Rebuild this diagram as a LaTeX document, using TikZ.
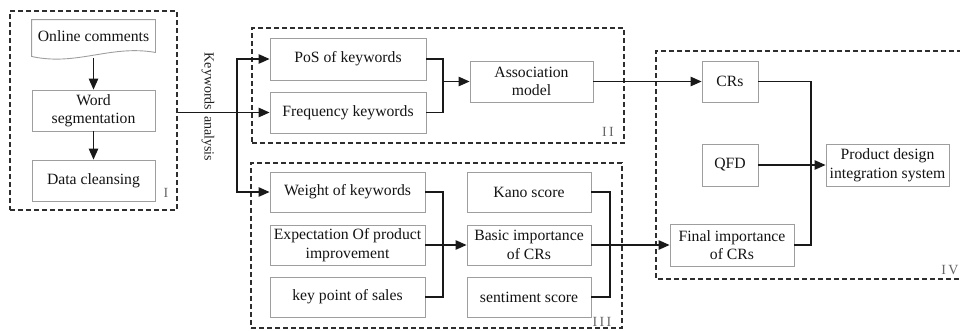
\documentclass[tikz,border=0pt]{standalone}
\usepackage{fontspec}
\setmainfont{Liberation Serif}
\usetikzlibrary{arrows.meta,calc}

\tikzset{
  stepbox/.style={draw=black!38, line width=0.9pt, fill=white, align=center,
    inner sep=0pt, font=\fontsize{15.7}{18.5}\selectfont, text=black!92},
  groupbox/.style={draw=black!82, line width=1.3pt, dash pattern=on 5pt off 3pt,
    inner sep=0pt},
  link/.style={draw=black!90, line width=1.2pt},
  flow/.style={link, -{Triangle[length=11pt,width=9.5pt]}},
  tag/.style={text=black!60, font=\fontsize{14}{14}\selectfont, inner sep=0pt},
}

\begin{document}
\begin{tikzpicture}[x=1pt,y=-1pt]
\useasboundingbox (0,0) rectangle (960,330);

% dashed group frames
\node[groupbox, minimum width=167pt, minimum height=199pt] (g1) at (93.5,110.5) {};
\node[groupbox, minimum width=372pt, minimum height=115pt] (g2) at (438,85.5) {};
\node[groupbox, minimum width=371pt, minimum height=165pt] (g3) at (436.5,245.5) {};
\draw[groupbox] (962,51) -- (656,51) -- (656,279) -- (962,279);

% group I: preprocessing
\node[stepbox, draw=none, fill=none, minimum width=123pt, minimum height=32pt] (oc) at (93.5,36) {Online comments};
\draw[draw=black!38, line width=0.9pt]
  (oc.south west) -- (oc.north west) -- (oc.north east) -- (oc.south east)
  .. controls ($(oc.south east)+(-45,-8)$) and ($(oc.south west)+(45,14)$) .. ($(oc.south west)+(0,4)$)
  -- (oc.south west);
\node[stepbox, minimum width=123pt, minimum height=41pt] (ws) at (93.5,110.5) {Word\\segmentation};
\node[stepbox, minimum width=123pt, minimum height=41pt] (dc) at (93.5,180.5) {Data cleansing};
\draw[flow] ($(oc.south)+(0,6)$) -- (ws.north);
\draw[flow] (ws.south) -- (dc.north);

% group II: association
\node[stepbox, minimum width=156pt, minimum height=42pt] (pos) at (348,59) {PoS of keywords};
\node[stepbox, minimum width=156pt, minimum height=41pt] (freq) at (348,112.5) {Frequency keywords};
\node[stepbox, minimum width=123pt, minimum height=41pt] (assoc) at (531.5,81.5) {Association\\model};

% group III: importance
\node[stepbox, minimum width=155pt, minimum height=40pt] (wk) at (347.5,192) {Weight of keywords};
\node[stepbox, minimum width=155pt, minimum height=40pt] (exp) at (347.5,245) {Expectation Of product\\improvement};
\node[stepbox, minimum width=155pt, minimum height=40pt] (kps) at (347.5,297) {key point of sales};
\node[stepbox, minimum width=124pt, minimum height=40pt] (kano) at (529,192) {Kano score};
\node[stepbox, minimum width=124pt, minimum height=40pt] (basic) at (529,245) {Basic importance\\of CRs};
\node[stepbox, minimum width=124pt, minimum height=40pt] (sent) at (529,297) {sentiment score};

% group IV: integration
\node[stepbox, minimum width=56pt, minimum height=41pt] (crs) at (730,81.5) {CRs};
\node[stepbox, minimum width=56pt, minimum height=42pt] (qfd) at (730,165) {QFD};
\node[stepbox, minimum width=124pt, minimum height=42pt] (final) at (732,245) {Final importance\\of CRs};
\node[stepbox, minimum width=123pt, minimum height=42pt] (pdis) at (887.5,165) {Product design\\integration system};

% group numbers
\node[tag] (t1) at (166,193) {I};
\node[tag] (t2) at (608,132) {I\,I};
\node[tag] (t3) at (602,322) {I\,I\,I};
\node[tag] (t4) at (950,270) {I\,V};

% keyword analysis branch
\node[rotate=-90, inner sep=0pt, text=black!88,
  font={\fontsize{14}{14}\selectfont\spaceskip=6pt\relax}] (ka) at (208,107) {Keywords analysis};
\coordinate (trunk) at (237,112.5);
\draw[flow] (g1.east |- freq.west) -- (freq.west);
\draw[flow] (trunk) |- (pos.west);
\draw[flow] (trunk) |- (wk.west);

% merges
\coordinate (m1) at (443,81.5);
\draw[link] (pos.east) -| (m1) |- (freq.east);
\draw[flow] (m1) -- (assoc.west);
\draw[flow] (assoc.east) -- (crs.west);

\coordinate (m2) at (443,245);
\draw[link] (wk.east) -| (m2) |- (kps.east);
\draw[flow] (exp.east) -- (basic.west);

\coordinate (m3) at (610,245);
\draw[link] (kano.east) -| (m3) |- (sent.east);
\draw[flow] (basic.east) -- (final.west);

\coordinate (m4) at (811,165);
\draw[link] (crs.east) -| (m4) |- (final.east);
\draw[flow] (qfd.east) -- (pdis.west);
\end{tikzpicture}
\end{document}
